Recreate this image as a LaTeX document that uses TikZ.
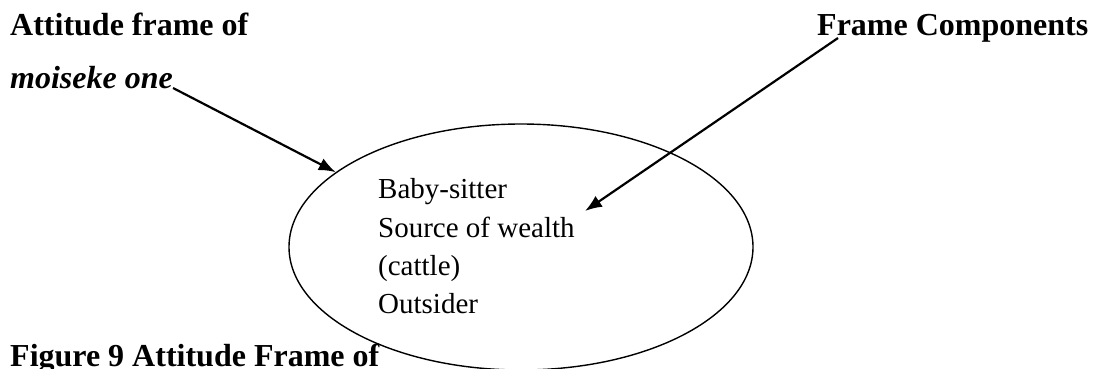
\documentclass[tikz,border=0pt]{standalone}
\usepackage{fontspec}
\setmainfont{Liberation Serif}
\usetikzlibrary{shapes.geometric,arrows.meta}
\begin{document}
\begin{tikzpicture}[x=1pt,y=-1pt,
  head/.style={anchor=base west,inner sep=0pt,font=\fontsize{32}{38}\selectfont\bfseries},
  item/.style={anchor=base west,inner sep=0pt,font=\fontsize{29}{35}\selectfont},
  pointer/.style={line width=2.2pt,-{Latex[length=17pt,width=13pt]}}]
\useasboundingbox (0,0) rectangle (1096,368);
% headings
\node[head] (att) at (10,35) {Attitude frame of};
\node[head,font=\fontsize{32}{38}\selectfont\bfseries\itshape] (mois) at (10,88) {moiseke one};
\node[head] (comp) at (817,35) {Frame Components};
\node[head] (cap) at (10,366) {Figure 9 Attitude Frame of};
% the frame
\node[draw,ellipse,line width=1.4pt,minimum width=464pt,minimum height=246pt,inner sep=0pt] (frame) at (521,247) {};
\node[item] (i1) at (378,198) {Baby-sitter};
\node[item] (i2) at (378,237) {Source of wealth};
\node[item] (i3) at (378,275) {(cattle)};
\node[item] (i4) at (378,313) {Outsider};
% pointers
\coordinate (compfoot) at (838,38);
\coordinate (inner) at (585,211);
\draw[pointer] (mois.base east) -- (frame.158.3);
\draw[pointer] (compfoot) -- (inner);
\end{tikzpicture}
\end{document}
